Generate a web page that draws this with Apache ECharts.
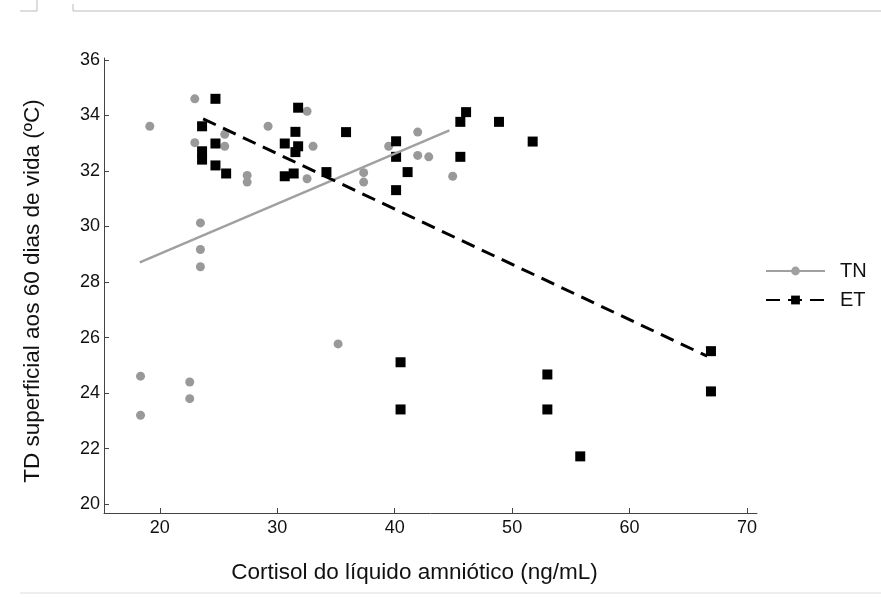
<!DOCTYPE html>
<html>
<head>
<meta charset="utf-8">
<script src="https://cdn.jsdelivr.net/npm/echarts@6/dist/echarts.min.js"></script>
<style>html,body{margin:0;padding:0;background:#fff}#c{width:881px;height:597px}</style>
</head>
<body>
<div id="c"></div>
<script>
// TN (grey circles)
const tnX = [19.15, 22.98, 22.98, 25.53, 25.53, 27.44, 27.44, 29.22, 23.46, 23.46, 23.46, 32.54, 33.05, 32.54, 37.36, 37.36, 39.49, 41.96, 41.96, 42.9, 44.94, 18.36, 18.36, 22.55, 22.55, 35.18];
const tnY = [33.61, 34.60, 33.02, 33.32, 32.89, 31.84, 31.60, 33.61, 30.13, 29.17, 28.55, 34.15, 32.89, 31.72, 31.94, 31.60, 32.89, 33.40, 32.56, 32.51, 31.81, 24.61, 23.20, 24.40, 23.80, 25.77];
// ET (black squares)
const etX = [24.74, 23.6, 24.74, 23.6, 23.6, 24.74, 25.65, 31.78, 31.55, 30.64, 31.78, 31.55, 30.64, 31.40, 34.19, 35.86, 40.12, 40.12, 41.1, 40.12, 45.59, 45.59, 46.08, 48.88, 51.75, 40.5, 40.5, 53.0, 53.0, 55.8, 66.93, 66.93];
const etY = [34.60, 33.61, 32.99, 32.71, 32.41, 32.20, 31.91, 34.28, 33.41, 32.99, 32.89, 32.68, 31.81, 31.91, 31.96, 33.40, 33.07, 32.51, 31.96, 31.31, 32.51, 33.77, 34.12, 33.77, 33.06, 25.11, 23.41, 24.67, 23.41, 21.72, 25.51, 24.06];
// Trend lines (endpoints)
const tnFitX = [18.3, 44.66];
const tnFitY = [28.71, 33.46];
const etFitX = [23.69, 66.6];
const etFitY = [33.88, 25.33];
// Tick labels
const xTicks = [20, 30, 40, 50, 60, 70];
const yTicks = [20, 22, 24, 26, 28, 30, 32, 34, 36];

const pairs = (xs, ys) => xs.map((x, i) => [x, ys[i]]);
const FONT = "'Liberation Sans', Arial, sans-serif";
const chart = echarts.init(document.getElementById('c'));
chart.setOption({
  animation: false,
  backgroundColor: '#fff',
  grid: { left: 104, right: 124, top: 58, bottom: 84 },
  xAxis: {
    type: 'value', min: 15.25, max: 70.85,
    name: 'Cortisol do líquido amniótico (ng/mL)',
    nameLocation: 'middle', nameGap: 48,
    nameTextStyle: { fontFamily: FONT, fontSize: 22.5, color: '#111', padding: [0, 32, 0, 0] },
    axisLine: { lineStyle: { color: '#444', width: 1 } },
    axisTick: { show: true, inside: true, length: 5, customValues: xTicks, lineStyle: { color: '#444' } },
    axisLabel: { customValues: xTicks, fontFamily: FONT, fontSize: 18, color: '#111', margin: 6 },
    splitLine: { show: false }
  },
  yAxis: {
    type: 'value', min: 19.68, max: 36.07,
    name: 'TD superficial aos 60 dias de vida (ºC)',
    nameLocation: 'middle', nameGap: 60, nameRotate: 90,
    nameTextStyle: { fontFamily: FONT, fontSize: 22.5, color: '#111', padding: [0, 11, 0, 0] },
    axisLine: { show: true, lineStyle: { color: '#444', width: 1 } },
    axisTick: { show: true, inside: true, length: 5, customValues: yTicks, lineStyle: { color: '#444' } },
    axisLabel: { customValues: yTicks, fontFamily: FONT, fontSize: 18, color: '#111', margin: 4 },
    splitLine: { show: false }
  },
  legend: {
    orient: 'vertical', left: 765, top: 261, padding: 0,
    itemWidth: 59, itemHeight: 11, itemGap: 9,
    data: ['TN', 'ET'],
    textStyle: { fontFamily: FONT, fontSize: 20, color: '#111', lineHeight: 20, padding: [0, 0, 0, 10] }
  },
  series: [
    { name: 'TN', type: 'line', data: pairs(tnFitX, tnFitY), symbol: 'circle', showSymbol: false,
      lineStyle: { color: '#a0a0a0', width: 2.5 }, itemStyle: { color: '#a0a0a0' }, z: 4, silent: true },
    { name: 'ET', type: 'line', data: pairs(etFitX, etFitY), symbol: 'rect', showSymbol: false,
      lineStyle: { color: '#000', width: 3, type: [14, 8] }, itemStyle: { color: '#000' }, z: 4, silent: true },
    { name: 'TN', type: 'scatter', data: pairs(tnX, tnY), symbol: 'circle', symbolSize: 9,
      itemStyle: { color: '#999', opacity: 1 }, z: 2 },
    { name: 'ET', type: 'scatter', data: pairs(etX, etY), symbol: 'rect', symbolSize: 10,
      itemStyle: { color: '#000', opacity: 1 }, z: 3 }
  ],
  graphic: [
    { type: 'line', shape: { x1: 20, y1: 11, x2: 37, y2: 11 }, style: { stroke: '#bbb', lineWidth: 1 } },
    { type: 'line', shape: { x1: 37, y1: 0, x2: 37, y2: 11 }, style: { stroke: '#bbb', lineWidth: 1 } },
    { type: 'line', shape: { x1: 73, y1: 4, x2: 73, y2: 11 }, style: { stroke: '#bbb', lineWidth: 1 } },
    { type: 'line', shape: { x1: 73, y1: 11, x2: 881, y2: 11 }, style: { stroke: '#bbb', lineWidth: 1 } },
    { type: 'line', shape: { x1: 20, y1: 593, x2: 881, y2: 593 }, style: { stroke: '#ddd', lineWidth: 1 } }
  ]
});
</script>
</body>
</html>
